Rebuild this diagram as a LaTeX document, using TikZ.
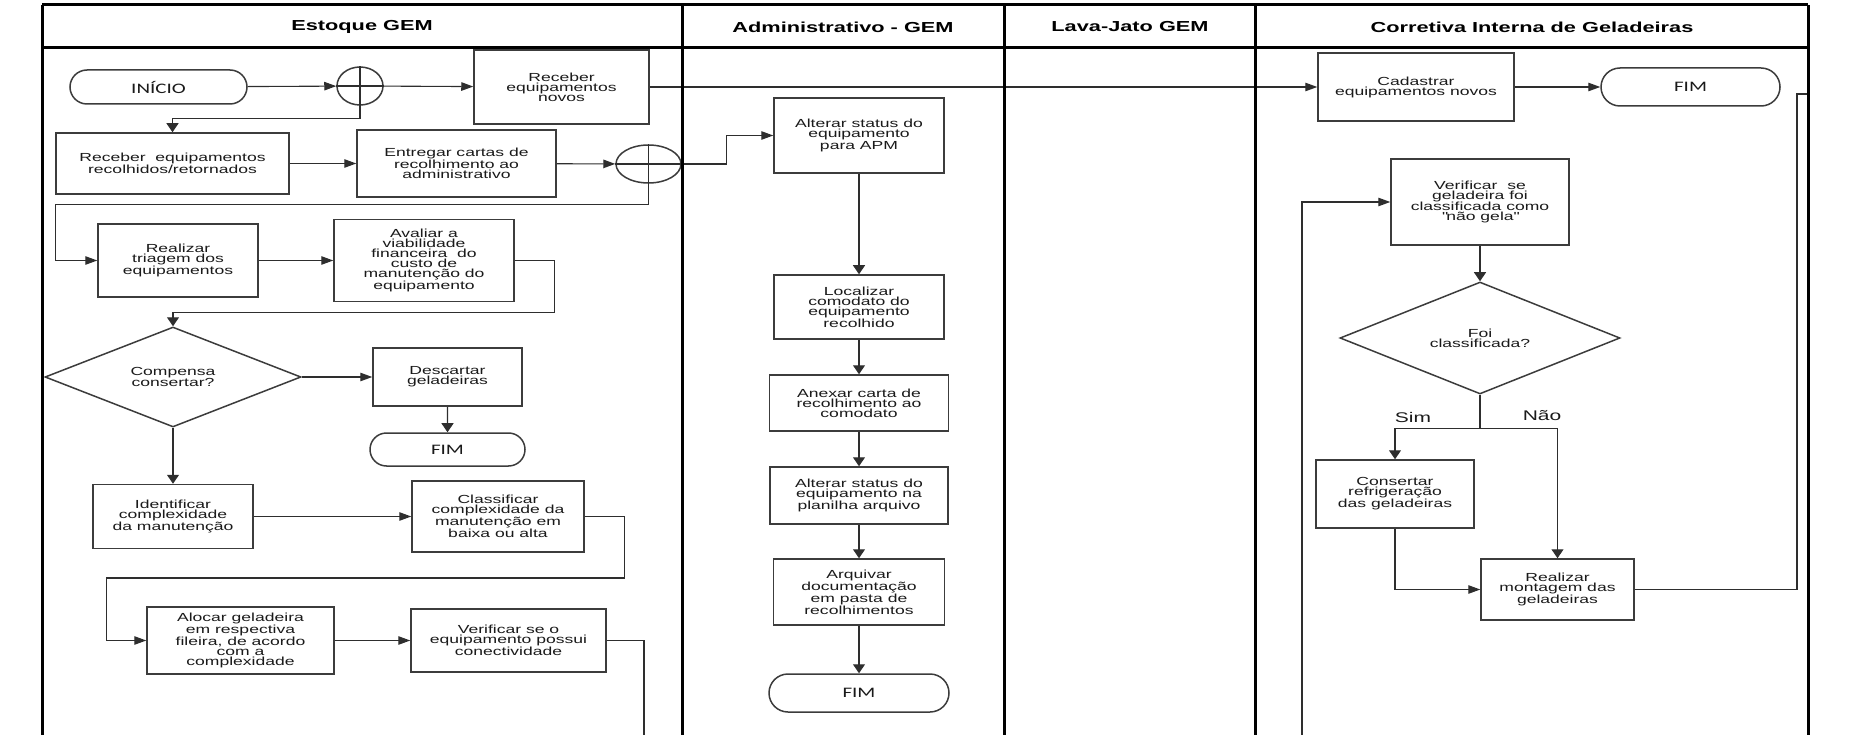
\documentclass[tikz,border=0pt]{standalone}
\usepackage{fontspec}
\usepackage{xcolor}
\usepackage{tikz}
\usetikzlibrary{
    arrows.meta,
    positioning,
    shapes.geometric,
    shapes.misc
}
\newfontfamily\boxfont[FakeStretch=1.5]{Liberation Sans}
\newfontfamily\termfont[FakeStretch=1.45]{Carlito}
\definecolor{gemline}{HTML}{2E2E2E}
\definecolor{gemborder}{HTML}{3C3C3C}
\definecolor{gemtext}{HTML}{1A1A1A}
\tikzstyle{arrow}=[line width=1.1pt,-{Triangle[length=12pt,width=8.5pt]},draw=gemline]
\tikzstyle{downarrow}=[line width=1.1pt,-{Triangle[length=9pt,width=12pt]},draw=gemline]
\tikzstyle{wire}=[line width=1.1pt,draw=gemline]

\begin{document}
\begin{tikzpicture}[
    x=1pt,y=-1pt,
    boxsize/.style 2 args={minimum width=#1pt,minimum height=#2pt},
    lane/.style={line width=3pt,draw=black},
    lanehead/.style={
        font={\boxfont\bfseries\fontsize{14.5}{15}\selectfont},
        text=black
    },
    task/.style={
        rectangle,
        draw=gemborder,
        line width=1.5pt,
        fill=white,
        inner sep=1pt,
        align=center,
        text=gemtext,
        font={\boxfont\fontsize{11.7}{10}\selectfont}
    },
    terminal/.style={
        rounded rectangle,
        draw=gemborder,
        line width=1.5pt,
        fill=white,
        inner sep=1pt,
        text=gemtext,
        font={\termfont\fontsize{14.5}{15}\selectfont}
    },
    decision/.style={
        diamond,
        draw=gemborder,
        line width=1.5pt,
        fill=white,
        inner sep=0pt,
        aspect=2.5,
        align=center,
        text=gemtext,
        font={\boxfont\fontsize{11.7}{10}\selectfont}
    },
    junction/.style={
        ellipse,
        draw=gemborder,
        line width=1.5pt,
        fill=white,
        inner sep=0pt
    },
    branch/.style={
        text=gemtext,
        font={\boxfont\fontsize{14}{15}\selectfont}
    }
]
\useasboundingbox (0,0) rectangle (1865,735);

\node[lanehead] (hestoque) at (362,27) {Estoque GEM};
\node[lanehead] (hadmin) at (843,27) {Administrativo - GEM};
\node[lanehead] (hlava) at (1130,27) {Lava-Jato GEM};
\node[lanehead] (hcorretiva) at (1532,27) {Corretiva Interna de Geladeiras};

\node[terminal,boxsize={179}{34}] (inicio) at (158.5,87) {INÍCIO};
\node[junction,boxsize={46}{38}] (j1) at (360,86) {};
\node[task,boxsize={175}{74}] (novos) at (561.5,87) {Receber\\equipamentos\\novos};
\node[task,boxsize={233}{61}] (recolh) at (172.5,163.5)
{Receber\ \ equipamentos\\recolhidos/retornados};
\node[task,boxsize={199}{67}] (entregar) at (456.5,163.5)
{Entregar cartas de\\recolhimento ao\\administrativo};
\node[junction,boxsize={65}{38}] (j2) at (648.5,164) {};
\node[task,boxsize={160}{73}] (triagem) at (178,260.5) {Realizar\\triagem dos\\equipamentos};
\node[task,boxsize={180}{82}] (avaliar) at (424,260.5)
{Avaliar a\\viabilidade\\financeira\ \ do\\custo de\\manutenção do\\equipamento};
\node[decision,boxsize={256}{100}] (compensa) at (173,377) {Compensa\\consertar?};
\node[task,boxsize={149}{58}] (descartar) at (447.5,377) {Descartar\\geladeiras};
\node[terminal,boxsize={157}{33}] (fim1) at (447.5,449.5) {FIM};
\node[task,boxsize={160}{64}] (ident) at (173,516.5)
{Identificar\\complexidade\\da manutenção};
\node[task,boxsize={172}{71}] (classif) at (498,516.5)
{Classificar\\complexidade da\\manutenção em\\baixa ou alta};
\node[task,boxsize={187}{67}] (alocar) at (240.5,640.5)
{Alocar geladeira\\em respectiva\\fileira, de acordo\\com a\\complexidade};
\node[task,boxsize={195}{63}] (conect) at (508.5,640.5)
{Verificar se o\\equipamento possui\\conectividade};

\node[task,boxsize={170}{75}] (apm) at (859,135.5) {Alterar status do\\equipamento\\para APM};
\node[task,boxsize={170}{64}] (local) at (859,307)
{Localizar\\comodato do\\equipamento\\recolhido};
\node[task,boxsize={179}{56}] (anexar) at (859,403)
{Anexar carta de\\recolhimento ao\\comodato};
\node[task,boxsize={178}{57}] (planilha) at (859,495.5)
{Alterar status do\\equipamento na\\planilha arquivo};
\node[task,boxsize={171}{66}] (arquivar) at (859,592)
{Arquivar\\documentação\\em pasta de\\recolhimentos};
\node[terminal,boxsize={182}{38}] (fim2) at (859,693) {FIM};

\node[task,boxsize={196}{68}] (cadastrar) at (1416,87) {Cadastrar\\equipamentos novos};
\node[terminal,boxsize={181}{38}] (fim3) at (1690.5,87) {FIM};
\node[task,boxsize={178}{86}] (naogela) at (1480,202)
{Verificar\ \ se\\geladeira foi\\classificada como\\\textquotedbl não gela\textquotedbl};
\node[decision,boxsize={280}{112}] (foi) at (1480,338) {Foi\\classificada?};
\node[task,boxsize={158}{68}] (conserta) at (1395,494)
{Consertar\\refrigeração\\das geladeiras};
\node[task,boxsize={153}{61}] (montagem) at (1557.5,589.5)
{Realizar\\montagem das\\geladeiras};
\node[branch] (sim) at (1413,417) {Sim};
\node[branch] (nao) at (1542,416) {Não};

\draw[wire] (j1.north) -- (j1.south) (j1.west) -- (j1.east);
\draw[wire] (j2.north) -- (j2.south) (j2.west) -- (j2.east);

\draw[arrow] (inicio) -- (j1);
\draw[arrow] (j1) -- (novos);
\draw[downarrow] (j1.south) -- ++(0,13) -| (recolh.north);
\draw[arrow] (recolh) -- (entregar);
\draw[arrow] (entregar) -- (j2);
\draw[arrow] (j2.south) -- ++(0,21) -| ([xshift=-42pt]triagem.west) -- (triagem.west);
\draw[arrow] (triagem) -- (avaliar);
\draw[downarrow] (avaliar.east) -- ++(40,0) |- ([yshift=14pt]compensa.north) -- (compensa.north);
\draw[arrow] (compensa) -- (descartar);
\draw[downarrow] (descartar) -- (fim1);
\draw[downarrow] (compensa) -- (ident);
\draw[arrow] (ident) -- (classif);
\draw[arrow] (classif.east) -- ++(40,0) -- ++(0,61.5) -| ([xshift=-40pt]alocar.west) -- (alocar.west);
\draw[arrow] (alocar) -- (conect);
\coordinate (conectout) at (644,735);
\draw[wire] (conect.east) -| (conectout);

\draw[arrow] (j2.east) -- ++(45,0) |- (apm.west);
\draw[downarrow] (apm) -- (local);
\draw[downarrow] (local) -- (anexar);
\draw[downarrow] (anexar) -- (planilha);
\draw[downarrow] (planilha) -- (arquivar);
\draw[downarrow] (arquivar) -- (fim2);

\draw[arrow] (novos) -- (cadastrar);
\draw[arrow] (cadastrar) -- (fim3);
\coordinate (loopin) at (1302,735);
\draw[arrow] (loopin) |- (naogela.west);
\draw[downarrow] (naogela) -- (foi);
\draw[wire] (foi.south) -- ++(0,34) coordinate (split);
\draw[downarrow] (split) -| (conserta.north);
\draw[downarrow] (split) -| (montagem.north);
\draw[arrow] (conserta.south) |- (montagem.west);
\coordinate (montout) at (1808,94);
\draw[wire] (montagem.east) -| ([xshift=-11pt]montout) -- (montout);

\draw[lane] (42,5) -- (1808,5);
\draw[lane] (42,48) -- (1808,48);
\draw[lane] (42,5) -- (42,735);
\draw[lane] (682,5) -- (682,735);
\draw[lane] (1004,5) -- (1004,735);
\draw[lane] (1255,5) -- (1255,735);
\draw[lane] (1808,5) -- (1808,735);
\end{tikzpicture}
\end{document}
